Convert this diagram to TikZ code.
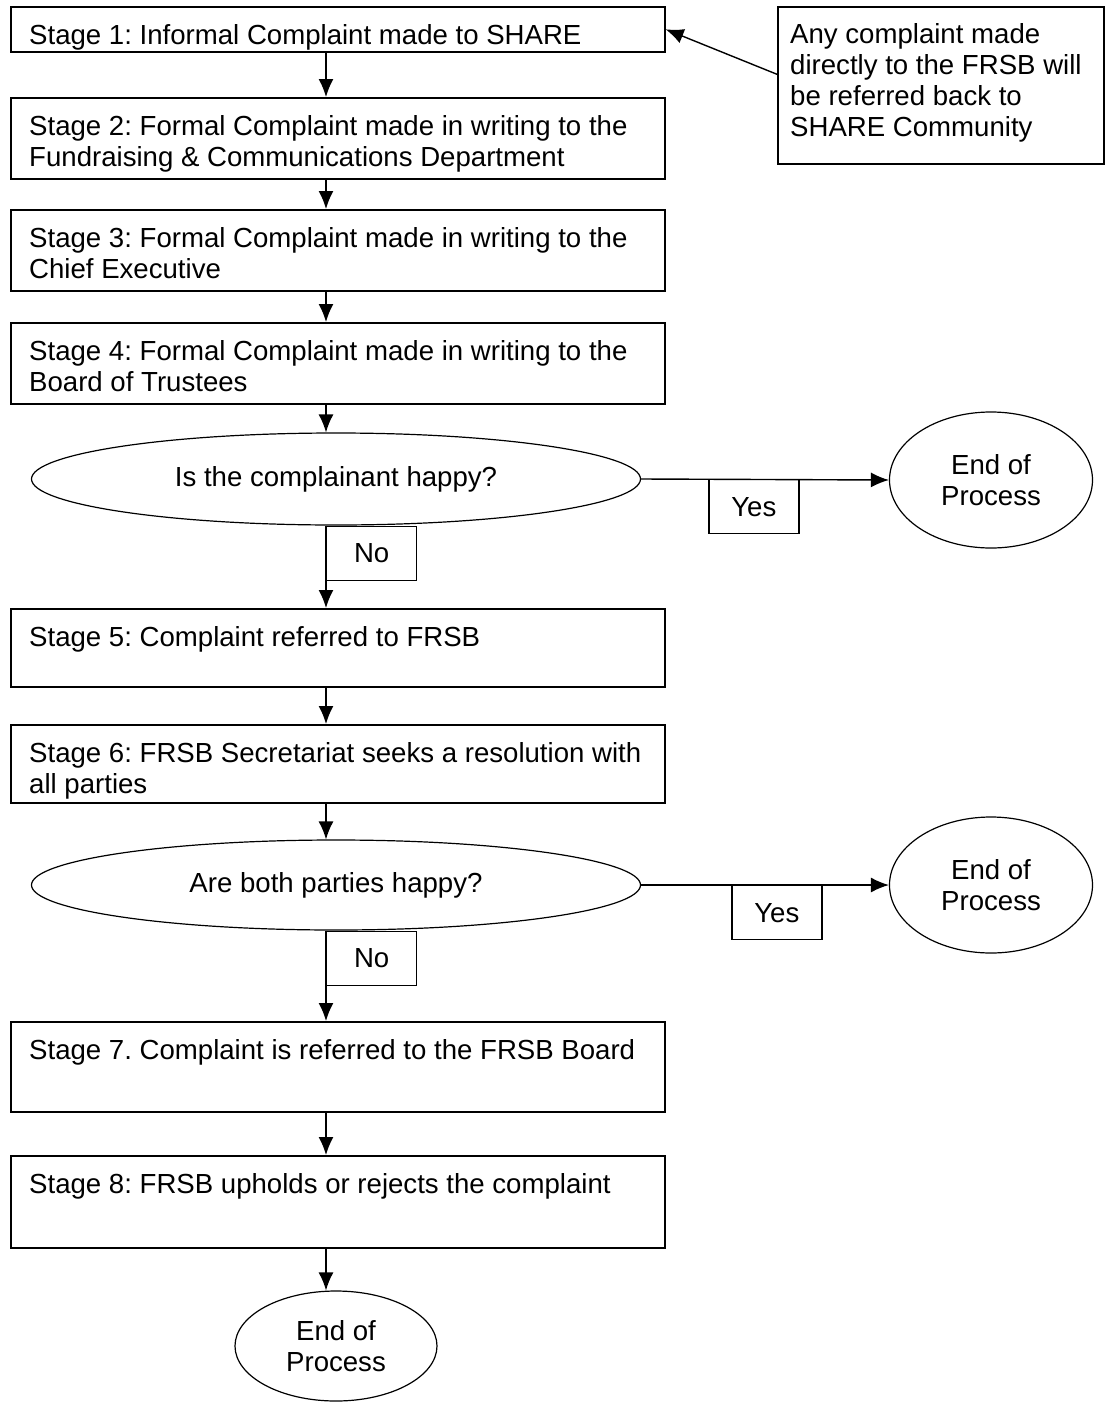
\documentclass[tikz,border=0pt]{standalone}
\usepackage{fontspec}
\setmainfont{Liberation Sans}
\frenchspacing
\usetikzlibrary{arrows.meta}
\usetikzlibrary{shapes.geometric}
\newcommand{\flowfont}{\fontsize{27.6}{31}\selectfont}
\tikzstyle{stagebox}=[draw, line width=1.6pt, rectangle, anchor=north west, minimum width=654pt, inner sep=0pt]
\tikzstyle{stagetext}=[anchor=north west, inner sep=0pt, align=left, font=\flowfont]
\tikzstyle{question}=[draw, line width=1.2pt, ellipse, minimum width=609pt, minimum height=92pt, inner sep=0pt, font=\flowfont]
\tikzstyle{endstate}=[draw, line width=1.2pt, ellipse, minimum width=203pt, minimum height=136pt, inner sep=0pt, align=center, font=\flowfont]
\tikzstyle{answer}=[draw, line width=1.4pt, rectangle, anchor=north west, minimum width=90pt, minimum height=54pt, inner sep=0pt, font=\flowfont]
\tikzstyle{flow}=[draw, line width=1.4pt, -{Latex[length=18pt,width=15pt]}]
\newcommand{\stage}[4]{\node [stagebox, minimum height=#3pt] (#1) at (10,#2) {};
  \node [stagetext] (#1text) at ([xshift=19pt,yshift=-18pt]#1.north west) {#4};}

\begin{document}
\begin{tikzpicture}[x=1pt, y=-1pt]
\useasboundingbox (0,0) rectangle (1105,1403);
\coordinate (spine) at (326,0);
% stages
\stage{s1}{6}{45}{Stage 1: Informal Complaint made to SHARE}
\stage{s2}{97}{81}{Stage 2: Formal Complaint made in writing to the\\Fundraising \& Communications Department}
\stage{s3}{209}{81}{Stage 3: Formal Complaint made in writing to the\\Chief Executive}
\stage{s4}{322}{81}{Stage 4: Formal Complaint made in writing to the\\Board of Trustees}
\stage{s5}{608}{78}{Stage 5: Complaint referred to FRSB}
\stage{s6}{724}{78}{Stage 6: FRSB Secretariat seeks a resolution with\\all parties}
\stage{s7}{1021}{90}{Stage 7. Complaint is referred to the FRSB Board}
\stage{s8}{1155}{92}{Stage 8: FRSB upholds or rejects the complaint}
% note
\node [stagebox, minimum width=326pt, minimum height=157pt] (note) at (777,6) {};
\node [stagetext] (notetext) at ([xshift=13pt,yshift=-17pt]note.north west) {Any complaint made\\directly to the FRSB will\\be referred back to\\SHARE Community};
% decisions
\node [question] (q1) at (336,479) {Is the complainant happy?};
\node [question, minimum height=90pt] (q2) at (336,885) {Are both parties happy?};
\node [endstate] (end1) at (991,480) {End of\\Process};
\node [endstate] (end2) at (991,885) {End of\\Process};
\node [endstate, minimum width=202pt, minimum height=110pt] (end3) at (336,1346) {End of\\Process};
\node [answer] (yes1) at ([xshift=67pt]q1.east) {Yes};
\node [answer] (yes2) at ([xshift=90pt]q2.east) {Yes};
\node [answer] (no1) at (q1.south -| spine) {No};
\node [answer] (no2) at (q2.south -| spine) {No};
% connectors
\draw [flow] ([yshift=11pt]note.west) -- (s1.east);
\draw [flow] (s1.south -| spine) -- (s2.north -| spine);
\draw [flow] (s2.south -| spine) -- (s3.north -| spine);
\draw [flow] (s3.south -| spine) -- (s4.north -| spine);
\draw [flow] (s4.south -| spine) -- (q1.north -| spine);
\draw [flow] (q1.east) -- (end1.west);
\draw [flow] (q1.south -| spine) -- (s5.north -| spine);
\draw [flow] (s5.south -| spine) -- (s6.north -| spine);
\draw [flow] (s6.south -| spine) -- (q2.north -| spine);
\draw [flow] (q2.east) -- (end2.west);
\draw [flow] (q2.south -| spine) -- (s7.north -| spine);
\draw [flow] (s7.south -| spine) -- (s8.north -| spine);
\draw [flow] (s8.south -| spine) -- (end3.north -| spine);
\end{tikzpicture}
\end{document}
